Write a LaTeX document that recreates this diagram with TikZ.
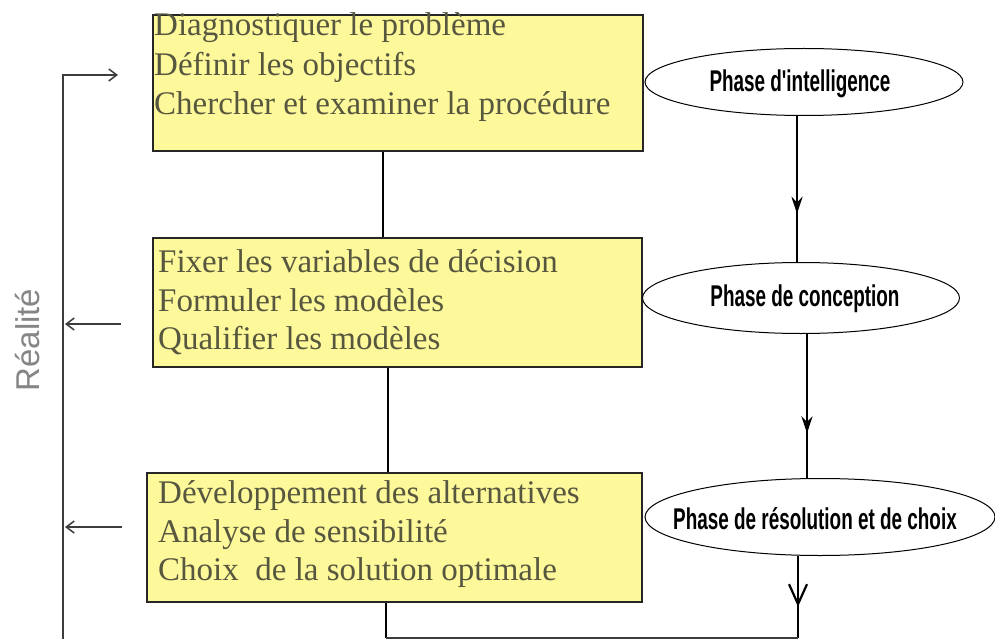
\documentclass[tikz,border=0pt]{standalone}
\usepackage{fontspec}
\setmainfont{Liberation Serif}
\newfontfamily\phasefont[FakeStretch=0.63]{Liberation Sans}
\newfontfamily\realfont{Liberation Sans}
\usetikzlibrary{arrows.meta,shapes.geometric,decorations.markings}
\definecolor{boxfill}{HTML}{FDF99B}
\definecolor{boxtext}{HTML}{57563F}
\definecolor{realgrey}{HTML}{858585}
\definecolor{retline}{HTML}{3C3C3C}
\begin{document}
\begin{tikzpicture}[x=1pt,y=-1pt,
  stepbox/.style={draw=black!85, line width=1.6pt, fill=boxfill, rectangle, inner sep=0pt},
  itemtext/.style={anchor=base west, inner sep=0pt, text=boxtext, font=\fontsize{33}{39}\selectfont},
  phase/.style={ellipse, draw=black, line width=1pt, fill=white, inner sep=0pt},
  phasetext/.style={font=\phasefont\bfseries\fontsize{30}{33}\selectfont, inner sep=0pt},
  flow/.style={line width=2.6pt, black},
  ret/.style={line width=1.5pt, retline},
  midtip/.style={postaction=decorate, decoration={markings, mark=at position #1 with {\arrow{Stealth[length=17pt,width=11pt]}}}},
  midbarb/.style={postaction=decorate, decoration={markings, mark=at position #1 with {\arrow[line width=2.2pt]{Straight Barb[length=20pt,width=18pt]}}}},
  retip/.style={-{Straight Barb[length=8pt,width=12pt]}}
]
\useasboundingbox (0,0) rectangle (995,639);

% three stages of the process
\node[stepbox, minimum width=490pt, minimum height=136pt] (box1) at (398,83) {};
\node[stepbox, minimum width=489pt, minimum height=129pt] (box2) at (397.5,302.5) {};
\node[stepbox, minimum width=495pt, minimum height=129pt] (box3) at (394.5,537.5) {};

\node[itemtext] (t11) at (154,36) {Diagnostiquer le problème};
\node[itemtext] (t12) at (154,76) {Définir les objectifs};
\node[itemtext] (t13) at (154,115) {Chercher et examiner la procédure};

\node[itemtext] (t21) at (158,272) {Fixer les variables de décision};
\node[itemtext] (t22) at (158,311) {Formuler les modèles};
\node[itemtext] (t23) at (158,349) {Qualifier les modèles};

\node[itemtext] (t31) at (158,503) {Développement des alternatives};
\node[itemtext] (t32) at (158,542) {Analyse de sensibilité};
\node[itemtext] (t33) at (158,580) {Choix\ \ de la solution optimale};

\draw[flow] ([xshift=-15pt]box1.south) -- ([xshift=-14.5pt]box2.north);
\draw[flow] ([xshift=-9.5pt]box2.south) -- ([xshift=-6.5pt]box3.north);

% phases
\node[phase, minimum width=318pt, minimum height=67pt] (E1) at (804,82) {};
\node[phase, minimum width=317pt, minimum height=71pt] (E2) at (801,298) {};
\node[phase, minimum width=350pt, minimum height=77pt] (E3) at (820,517) {};

\node[phasetext] (p1) at (800,84) {Phase d'intelligence};
\node[phasetext] (p2) at (805,299) {Phase de conception};
\node[phasetext] (p3) at (815,519) {Phase de résolution et de choix};

\draw[flow, midtip=0.67] ([xshift=-7pt]E1.south) -- ([xshift=-4pt]E2.north);
\draw[flow, midtip=0.69] ([xshift=6pt]E2.south) -- ([xshift=-13pt]E3.north);

\coordinate (br) at (798,638);
\coordinate (bl) at (386,638);
\draw[flow, midbarb=0.62] ([xshift=-22pt]E3.south) -- (br);
\draw[flow] (box3.south -| bl) -- (bl);
\draw[ret] (bl) -- (br);

% feedback to reality
\coordinate (rbot) at (63,639);
\coordinate (rtop) at (63,75);
\coordinate (rin) at (118,75);
\draw[ret, retip] (rbot) -- (rtop) -- (rin);
\coordinate (o2) at (121,324);
\coordinate (l2) at (65,324);
\draw[ret, retip] (o2) -- (l2);
\coordinate (o3) at (122,527);
\coordinate (l3) at (65,527);
\draw[ret, retip] (o3) -- (l3);

\node[rotate=90, anchor=base, font=\realfont\fontsize{33}{36}\selectfont, text=realgrey, inner sep=0pt] (real) at (39,340) {Réalité};
\end{tikzpicture}
\end{document}
